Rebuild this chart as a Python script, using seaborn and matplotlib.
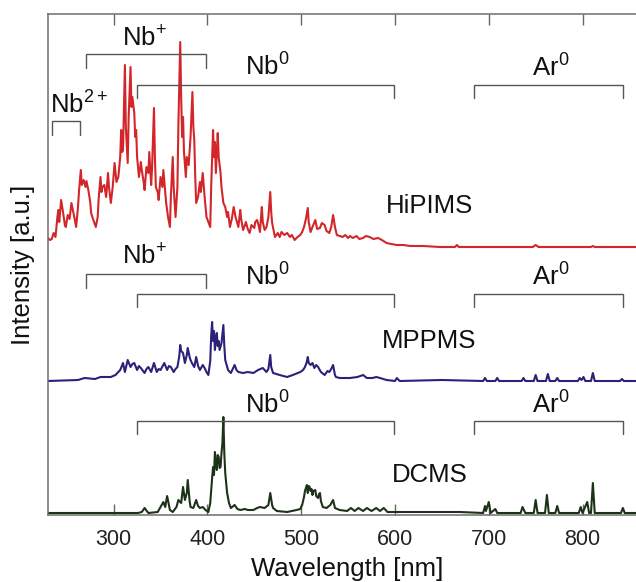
import matplotlib
matplotlib.use("Agg")
import matplotlib.pyplot as plt
import pandas as pd
import seaborn as sns

sns.set_style("ticks")
plt.rcParams['font.family'] = ['Liberation Sans', 'DejaVu Sans']

# ---------------- data: (wavelength nm, intensity a.u. above the spectrum's own baseline) ----
hipims_points = [
    (230, 9), (232, 7), (234, 8), (236, 14), (238, 10), (240, 30), (241, 37), (242, 25),
    (244, 47), (246, 35), (248, 22), (249, 20), (251, 32), (253, 28), (255, 44), (257, 35),
    (258, 30), (260, 20), (262, 40), (263, 55), (265, 77), (266, 62), (268, 67), (270, 60),
    (271, 66), (273, 57), (275, 45), (276, 34), (278, 28), (281, 20), (283, 30), (284, 48),
    (286, 70), (287, 55), (288, 60), (290, 62), (292, 50), (294, 74), (295, 60), (297, 44),
    (299, 60), (301, 84), (303, 65), (305, 70), (307, 90), (308, 117), (309, 95), (310, 97),
    (311, 140), (312, 182), (313, 120), (315, 84), (316, 130), (318, 180), (319, 140),
    (320, 150), (322, 134), (323, 110), (324, 117), (325, 90), (327, 70), (329, 85), (330, 77),
    (332, 65), (333, 57), (335, 80), (337, 74), (338, 95), (340, 62), (341, 80), (343, 139),
    (344, 90), (345, 60), (347, 55), (348, 47), (350, 70), (352, 60), (353, 77), (355, 55),
    (356, 44), (358, 30), (360, 20), (361, 50), (363, 90), (364, 60), (366, 30), (368, 60),
    (369, 120), (371, 205), (372, 150), (373, 110), (374, 130), (375, 95), (377, 70), (378, 90),
    (380, 82), (382, 110), (384, 155), (385, 120), (386, 107), (387, 70), (388, 44), (390, 50),
    (392, 65), (393, 55), (395, 74), (397, 50), (399, 30), (401, 25), (403, 20), (404, 60),
    (406, 117), (407, 90), (408, 105), (409, 74), (411, 114), (412, 90), (414, 74), (415, 60),
    (417, 44), (419, 40), (421, 30), (422, 35), (424, 20), (426, 28), (428, 40), (430, 30),
    (433, 20), (435, 37), (436, 28), (438, 17), (440, 22), (441, 25), (443, 18), (445, 14),
    (447, 22), (450, 19), (451, 25), (453, 27), (455, 20), (456, 15), (458, 40), (459, 25),
    (461, 17), (463, 20), (465, 30), (467, 55), (468, 35), (469, 24), (471, 15), (472, 10),
    (475, 14), (477, 10), (479, 15), (482, 12), (485, 14), (488, 10), (490, 12), (493, 7),
    (496, 10), (499, 12), (501, 15), (503, 20), (505, 28), (507, 39), (508, 25), (510, 15),
    (512, 20), (515, 27), (517, 18), (520, 19), (522, 24), (525, 22), (527, 16), (530, 14),
    (532, 20), (534, 32), (536, 20), (538, 12), (541, 11), (544, 10), (547, 12), (550, 9),
    (552, 11), (555, 9), (559, 11), (562, 8), (566, 9), (569, 11), (573, 10), (577, 8),
    (582, 9), (586, 7), (591, 4), (596, 3), (602, 2), (609, 2), (616, 1), (630, 1), (648, 0),
    (664, 0), (666, 2), (668, 0), (685, 0), (712, 0), (747, 0), (750, 2), (753, 0), (776, 0),
    (809, 0), (811, 1), (813, 0), (829, 0), (857, 0)]

mppms_points = [
    (230, 0), (262, 1), (269, 3), (280, 2), (286, 4), (297, 4), (302, 6), (307, 11), (310, 18),
    (312, 9), (315, 21), (318, 14), (320, 17), (322, 18), (325, 11), (327, 15), (329, 13),
    (333, 8), (335, 12), (337, 14), (340, 9), (343, 18), (346, 9), (348, 12), (350, 11),
    (354, 18), (357, 11), (359, 15), (361, 14), (364, 9), (366, 12), (368, 14), (370, 25),
    (371, 36), (372, 30), (374, 28), (376, 18), (378, 26), (379, 33), (381, 24), (382, 21),
    (384, 17), (386, 14), (388, 24), (390, 15), (392, 11), (395, 16), (397, 13), (399, 9),
    (401, 6), (403, 20), (404, 45), (405, 59), (406, 40), (407, 50), (408, 31), (409, 42),
    (410, 48), (411, 35), (412, 40), (413, 31), (415, 38), (417, 56), (418, 35), (419, 21),
    (422, 11), (425, 8), (427, 12), (429, 16), (431, 11), (433, 9), (438, 8), (443, 9),
    (449, 8), (454, 11), (459, 13), (463, 9), (465, 12), (467, 26), (468, 14), (470, 8),
    (477, 6), (485, 4), (491, 6), (499, 9), (502, 11), (504, 14), (506, 19), (507, 24),
    (508, 18), (510, 16), (512, 18), (514, 13), (516, 16), (518, 14), (521, 9), (525, 6),
    (528, 10), (530, 9), (532, 12), (534, 16), (536, 6), (537, 4), (541, 3), (552, 3),
    (560, 4), (566, 6), (570, 3), (576, 3), (580, 4), (584, 3), (591, 1), (600, 0), (602, 3),
    (605, 0), (650, 1), (694, 0), (696, 3), (698, 0), (707, 0), (709, 3), (711, 0), (735, 0),
    (737, 3), (739, 0), (748, 0), (750, 6), (752, 0), (761, 0), (763, 7), (765, 0), (771, 0),
    (773, 3), (775, 0), (795, 0), (797, 3), (799, 1), (801, 4), (803, 0), (809, 0), (811, 8),
    (813, 0), (840, 0), (842, 2), (844, 0), (857, 0)]

dcms_points = [
    (230, 0), (326, 0), (330, 1), (333, 5), (337, 0), (347, 1), (353, 11), (355, 6), (357, 17),
    (360, 3), (363, 1), (367, 6), (369, 13), (372, 10), (374, 26), (376, 13), (378, 20),
    (379, 33), (381, 12), (382, 6), (385, 5), (388, 13), (390, 7), (392, 5), (395, 6),
    (398, 3), (401, 1), (403, 10), (404, 23), (405, 35), (406, 46), (407, 38), (408, 61),
    (409, 50), (410, 43), (411, 58), (412, 56), (413, 45), (414, 46), (415, 60), (416, 70),
    (417, 96), (418, 60), (419, 40), (421, 20), (423, 10), (425, 5), (429, 8), (432, 4),
    (435, 3), (440, 4), (443, 3), (449, 3), (453, 5), (456, 6), (461, 5), (465, 8), (467, 20),
    (469, 8), (470, 5), (474, 2), (485, 1), (495, 3), (499, 4), (501, 8), (502, 12), (503, 16),
    (504, 22), (505, 25), (506, 28), (507, 20), (508, 27), (509, 26), (510, 22), (511, 24),
    (512, 18), (513, 22), (515, 23), (516, 17), (518, 15), (519, 19), (520, 20), (521, 12),
    (523, 6), (527, 5), (531, 8), (534, 13), (536, 5), (541, 3), (549, 2), (553, 5), (557, 2),
    (561, 5), (566, 2), (570, 5), (575, 2), (580, 5), (584, 2), (588, 5), (592, 1), (605, 1),
    (619, 1), (648, 1), (669, 1), (694, 0), (696, 7), (697, 2), (700, 11), (702, 0), (707, 4),
    (709, 0), (734, 0), (736, 6), (739, 0), (748, 0), (750, 13), (752, 0), (760, 0), (762, 18),
    (764, 0), (771, 0), (773, 7), (775, 0), (796, 0), (798, 6), (800, 0), (805, 11), (807, 0),
    (809, 0), (811, 30), (813, 0), (841, 0), (843, 5), (845, 0), (857, 0)]

series_names = ['HiPIMS', 'MPPMS', 'DCMS']
series_colors = ['#d3262b', '#2a2278', '#1d3219']
tick_values = [300, 400, 500, 600, 700, 800]

# bracket wavelength ranges (nm)
nb2_range = (234, 264)
nbp_range = (270, 399)
nb0_range = (325, 599)
ar0_range = (684, 843)

# ---------------- figure ---------------------------------------------------------------
fig = plt.figure(figsize=(6.36, 5.82), dpi=100)
ax = fig.add_axes([48 / 636, 1 - 515 / 582, 588 / 636, 501 / 582])

offsets = {'HiPIMS': 268, 'MPPMS': 134, 'DCMS': 2}
frames = []
for name, pts in [('HiPIMS', hipims_points), ('MPPMS', mppms_points), ('DCMS', dcms_points)]:
    nm, inten = zip(*pts)
    frames.append(pd.DataFrame({'Wavelength': nm, 'Intensity': inten, 'Mode': name}))
df = pd.concat(frames, ignore_index=True)
df['y'] = df['Intensity'] + df['Mode'].map(offsets)

for name, col in zip(series_names, series_colors):
    sns.lineplot(data=df[df['Mode'] == name], x='Wavelength', y='y', color=col,
                 linewidth=1.5, ax=ax, legend=False, estimator=None)

ax.set_xlim(230, 857)
ax.set_ylim(0, 501)

bcol = '#555555'


def bracket(rng, ytop, h=14):
    x0, x1 = rng
    ax.plot([x0, x0, x1, x1], [ytop - h, ytop, ytop, ytop - h], color=bcol, lw=1.0,
            solid_joinstyle='miter')


fs = 18.5
tkw = dict(fontsize=fs, color='#111111', va='baseline', ha='left')

# HiPIMS annotations
bracket(nb2_range, 394)
bracket(nbp_range, 461)
bracket(nb0_range, 430, 13)
bracket(ar0_range, 430, 13)
ax.text(232, 402, r'Nb$^{\mathregular{2+}}$', **tkw)
ax.text(309, 470, r'Nb$^{\mathregular{+}}$', **tkw)
ax.text(440, 440, r'Nb$^{\mathregular{0}}$', **tkw)
ax.text(746, 439, r'Ar$^{\mathregular{0}}$', **tkw)
ax.text(590, 302, 'HiPIMS', **tkw)

# MPPMS annotations
bracket(nbp_range, 241)
bracket(nb0_range, 221, 13)
bracket(ar0_range, 221, 13)
ax.text(309, 251, r'Nb$^{\mathregular{+}}$', **tkw)
ax.text(440, 230, r'Nb$^{\mathregular{0}}$', **tkw)
ax.text(746, 230, r'Ar$^{\mathregular{0}}$', **tkw)
ax.text(586, 167, 'MPPMS', **tkw)

# DCMS annotations
bracket(nb0_range, 94, 13)
bracket(ar0_range, 94, 13)
ax.text(440, 102, r'Nb$^{\mathregular{0}}$', **tkw)
ax.text(746, 102, r'Ar$^{\mathregular{0}}$', **tkw)
ax.text(597, 33, 'DCMS', **tkw)

# axes styling
ax.set_xticks(tick_values)
ax.set_xticklabels([str(t) for t in tick_values])
ax.set_yticks([])
ax.tick_params(axis='x', direction='in', top=True, length=8, width=1.0, color='#666666',
               labelsize=15.5, pad=10, labelcolor='#222222')
for s in ['left', 'bottom', 'top']:
    ax.spines[s].set_color('#6e6e6e')
    ax.spines[s].set_linewidth(1.1)
ax.spines['right'].set_visible(False)

ax.set_xlabel('Wavelength [nm]', fontsize=fs, color='#111111')
ax.set_ylabel('Intensity [a.u.]', fontsize=fs, color='#111111')
ax.xaxis.set_label_coords(0.509, -0.084)
ax.yaxis.set_label_coords(-0.022, 0.50)

fig.savefig('out.png', dpi=100)
